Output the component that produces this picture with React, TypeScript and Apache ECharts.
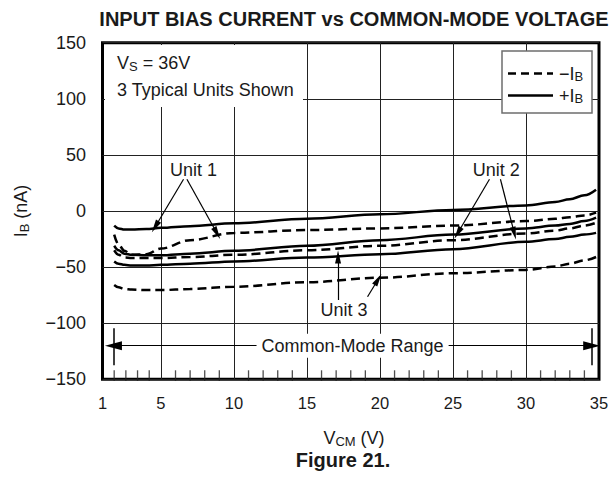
import React, { useEffect, useRef } from 'react';
import * as echarts from 'echarts';

// ---- data ----
const vcm = [1.8, 2.1, 2.5, 3, 4, 5, 7, 10, 15, 20, 25, 30, 32, 33, 34, 34.8];
const unit1Pos = [-13, -15.5, -16.5, -16.5, -16, -15, -13.5, -11, -7, -3, 1, 5, 8, 10.5, 14, 19];
const unit1Neg = [-21, -30, -35.5, -39, -38.5, -33.5, -26, -19.5, -17, -15.5, -13, -9, -7, -5.5, -4, -1.5];
const unit2Pos = [-31, -35, -38, -39, -39.5, -39.5, -38, -35.5, -31, -26, -21, -15.5, -13, -11.5, -9, -6];
const unit2Neg = [-35, -39, -41.5, -42, -42, -42, -41, -39, -35, -31, -26, -20, -17.5, -15.5, -13, -10.5];
const unit3Pos = [-45, -47, -48, -48.5, -48.5, -48, -47, -45, -41.5, -38.5, -34, -27.5, -25, -23, -21, -19.5];
const unit3Neg = [-66, -68, -69.5, -70, -70.5, -70.5, -69.5, -67.5, -63.5, -59.5, -55.5, -52.5, -49.5, -47, -44, -41];

const xMin = 1;
const xMax = 35;
const xLabelValues = [1, 5, 10, 15, 20, 25, 30, 35];
const xGridValues = [5, 10, 15, 20, 25, 30];
const xMinorTicks = [1.8, 2.6, 3.4, 4.2, 6, 7, 8, 9, 11, 12, 13, 14, 16, 17, 18, 19, 21, 22, 23, 24, 26, 27, 28, 29, 31, 32, 33, 34];
const yMin = -150;
const yMax = 150;
const yStep = 50;

// annotations in data coordinates
const unitLabelNames = ['Unit 1', 'Unit 2', 'Unit 3'];
const unitLabelV = [7.24, 27.96, 17.54];
const unitLabelI = [36.5, 36.5, -88.2];
// arrows: [fromV, fromI, toV, toI]
const unitArrows = [
  [6.55, 28.3, 4.61, -14],
  [6.78, 28.3, 8.84, -19.8],
  [27.5, 28.3, 25.33, -19.6],
  [28.25, 28.3, 29.2, -19.8],
  [17.13, -79.3, 17.13, -41],
  [19.15, -76.4, 19.87, -61],
];
const cmRangeStart = 1.75;
const cmRangeEnd = 34.5;
const cmRangeLevel = -120;
const cmBarTop = -104.5;
const cmBarBottom = -137.5;
const cmLabel = 'Common-Mode Range';

const FONT = 'Liberation Sans, Arial, Helvetica, sans-serif';
const TXT = '#1a1a1a';

const GRID_BOTTOM = 98.7;
const CHART_H = 478;

const pair = (xs: number[], ys: number[]) => xs.map((x, k) => [x, ys[k]]);

const curve = (name: string, ys: number[], dashed: boolean) => ({
  name,
  type: 'line',
  data: pair(vcm, ys),
  symbol: 'none',
  showSymbol: false,
  smooth: 0.35,
  smoothMonotone: 'x',
  silent: true,
  lineStyle: { color: '#000', width: 2.5, type: dashed ? [9, 5] : 'solid' },
  z: 3,
});

const richSub = (big: number, small: number) => ({
  a: { fontSize: big, lineHeight: big + 1, fontFamily: FONT, fill: TXT, color: TXT, verticalAlign: 'middle' },
  s: { fontSize: small, lineHeight: small, fontFamily: FONT, fill: TXT, color: TXT, verticalAlign: 'bottom' },
});

export default function App() {
  const ref = useRef<HTMLDivElement>(null);

  useEffect(() => {
    if (!ref.current) return;
    const chart = echarts.init(ref.current, null, { renderer: 'svg' });
    const plotBottom = CHART_H - GRID_BOTTOM;

    const option: any = {
      animation: false,
      backgroundColor: '#fff',
      textStyle: { fontFamily: FONT, color: TXT },
      grid: {
        left: 102.5,
        right: 13,
        top: 42.7,
        bottom: GRID_BOTTOM,
        show: true,
        borderColor: '#000',
        borderWidth: 3,
      },
      xAxis: {
        type: 'value',
        min: xMin,
        max: xMax,
        axisLine: { show: false, onZero: false },
        axisTick: { show: false, customValues: xGridValues },
        axisLabel: {
          customValues: xLabelValues,
          fontSize: 16.5,
          color: TXT,
          fontFamily: FONT,
          margin: 15,
        },
        splitLine: { show: true, lineStyle: { color: '#222', width: 1 } },
      },
      yAxis: {
        type: 'value',
        min: yMin,
        max: yMax,
        interval: yStep,
        axisLine: { show: false, onZero: false },
        axisTick: { show: false },
        axisLabel: {
          fontSize: 18,
          color: TXT,
          fontFamily: FONT,
          margin: 16.5,
          formatter: (v: number) => (v < 0 ? '\u2212' + Math.abs(v) : String(v)),
        },
        splitLine: { show: true, lineStyle: { color: '#222', width: 1 } },
      },
      series: [
        curve('unit1Pos', unit1Pos, false),
        curve('unit1Neg', unit1Neg, true),
        curve('unit2Pos', unit2Pos, false),
        curve('unit2Neg', unit2Neg, true),
        curve('unit3Pos', unit3Pos, false),
        curve('unit3Neg', unit3Neg, true),
        {
          name: 'minorTicks',
          type: 'scatter',
          data: xMinorTicks.map((v) => [v, yMin]),
          symbol: 'rect',
          symbolSize: [1.3, 14],
          symbolOffset: [0, -2],
          clip: false,
          itemStyle: { color: '#222' },
          z: 10,
        },
        {
          name: 'annotArrows',
          type: 'line',
          data: [],
          silent: true,
          markLine: {
            silent: true,
            animation: false,
            symbol: ['none', 'triangle'],
            symbolSize: [6, 13],
            lineStyle: { color: '#000', width: 1.2, type: 'solid' },
            label: { show: false },
            emphasis: { disabled: true },
            data: unitArrows.map((a) => [{ coord: [a[0], a[1]] }, { coord: [a[2], a[3]] }]),
          },
          markPoint: {
            silent: true,
            animation: false,
            symbol: 'rect',
            symbolSize: 1,
            itemStyle: { color: 'rgba(0,0,0,0)' },
            label: {
              show: true,
              position: 'inside',
              formatter: '{b}',
              fontSize: 18,
              color: TXT,
              fontFamily: FONT,
            },
            data: unitLabelNames.map((n, k) => ({ name: n, coord: [unitLabelV[k], unitLabelI[k]] })),
          },
        },
        {
          name: 'cmRange',
          type: 'line',
          data: [],
          silent: true,
          markLine: {
            silent: true,
            animation: false,
            symbol: ['triangle', 'triangle'],
            symbolSize: [9, 17],
            lineStyle: { color: '#000', width: 1.2, type: 'solid' },
            emphasis: { disabled: true },
            label: { show: false },
            data: [
              [{ coord: [cmRangeStart, cmRangeLevel] }, { coord: [cmRangeEnd, cmRangeLevel] }],
            ],
          },
          markPoint: {
            silent: true,
            animation: false,
            symbol: 'rect',
            symbolSize: 1,
            itemStyle: { color: 'rgba(0,0,0,0)' },
            label: {
              show: true,
              position: 'inside',
              formatter: '{b}',
              fontSize: 18,
              color: TXT,
              fontFamily: FONT,
              backgroundColor: '#fff',
              padding: [3, 5],
            },
            data: [{ name: cmLabel, coord: [(cmRangeStart + cmRangeEnd) / 2, cmRangeLevel] }],
          },
        },
        {
          name: 'cmBars',
          type: 'line',
          data: [],
          silent: true,
          markLine: {
            silent: true,
            animation: false,
            symbol: ['none', 'none'],
            lineStyle: { color: '#000', width: 1.5, type: 'solid' },
            emphasis: { disabled: true },
            label: { show: false },
            data: [
              [{ coord: [cmRangeStart, cmBarTop] }, { coord: [cmRangeStart, cmBarBottom] }],
              [{ coord: [cmRangeEnd, cmBarTop] }, { coord: [cmRangeEnd, cmBarBottom] }],
            ],
          },
        },
      ],
      graphic: [
        // white strip hiding the part of the minor ticks below the frame
        {
          type: 'rect',
          z: 100,
          silent: true,
          shape: { x: 95, y: plotBottom + 1.7, width: 515, height: 6 },
          style: { fill: '#fff' },
        },
        {
          type: 'text',
          x: 354,
          y: 19,
          z: 100,
          style: {
            text: 'INPUT BIAS CURRENT vs COMMON-MODE VOLTAGE',
            fontSize: 20,
            fontWeight: 'bold',
            fontFamily: FONT,
            fill: TXT,
            align: 'center',
            verticalAlign: 'middle',
          },
        },
        // text box covering grid lines
        {
          type: 'rect',
          z: 90,
          shape: { x: 105, y: 45, width: 198, height: 62 },
          style: { fill: '#fff' },
        },
        {
          type: 'text',
          x: 117,
          y: 63,
          z: 100,
          style: {
            text: '{a|V}{s|S}{a| = 36V}',
            rich: richSub(18, 13),
            align: 'left',
            verticalAlign: 'middle',
          },
        },
        {
          type: 'text',
          x: 117,
          y: 90,
          z: 100,
          style: {
            text: '3 Typical Units Shown',
            fontSize: 18,
            fontFamily: FONT,
            fill: TXT,
            align: 'left',
            verticalAlign: 'middle',
          },
        },
        // legend
        {
          type: 'rect',
          z: 90,
          shape: { x: 502, y: 51, width: 90, height: 62 },
          style: { fill: '#fff', stroke: '#6e6e6e', lineWidth: 1.5 },
        },
        {
          type: 'line',
          z: 100,
          shape: { x1: 508, y1: 73.5, x2: 553, y2: 73.5 },
          style: { stroke: '#000', lineWidth: 2.5, lineDash: [8, 5] },
        },
        {
          type: 'line',
          z: 100,
          shape: { x1: 508, y1: 95.5, x2: 553, y2: 95.5 },
          style: { stroke: '#000', lineWidth: 2.5 },
        },
        {
          type: 'text',
          x: 559,
          y: 73.5,
          z: 100,
          style: { text: '{a|\u2212I}{s|B}', rich: richSub(18, 13), align: 'left', verticalAlign: 'middle' },
        },
        {
          type: 'text',
          x: 559,
          y: 95.5,
          z: 100,
          style: { text: '{a|+I}{s|B}', rich: richSub(18, 13), align: 'left', verticalAlign: 'middle' },
        },
        // y axis name
        {
          type: 'text',
          x: 21,
          y: 211,
          rotation: Math.PI / 2,
          z: 100,
          style: { text: '{a|I}{s|B}{a| (nA)}', rich: richSub(18, 13), align: 'center', verticalAlign: 'middle' },
        },
        // x axis name
        {
          type: 'text',
          x: 354,
          y: 438,
          z: 100,
          style: { text: '{a|V}{s|CM}{a| (V)}', rich: richSub(18, 13), align: 'center', verticalAlign: 'middle' },
        },
        {
          type: 'text',
          x: 343,
          y: 460,
          z: 100,
          style: {
            text: 'Figure 21.',
            fontSize: 20,
            fontWeight: 'bold',
            fontFamily: FONT,
            fill: TXT,
            align: 'center',
            verticalAlign: 'middle',
          },
        },
      ],
    };

    chart.setOption(option);
    return () => chart.dispose();
  }, []);

  return (
    <div
      ref={ref}
      style={{ position: 'absolute', left: 0, top: 0, width: 612, height: 478, background: '#fff' }}
    />
  );
}
